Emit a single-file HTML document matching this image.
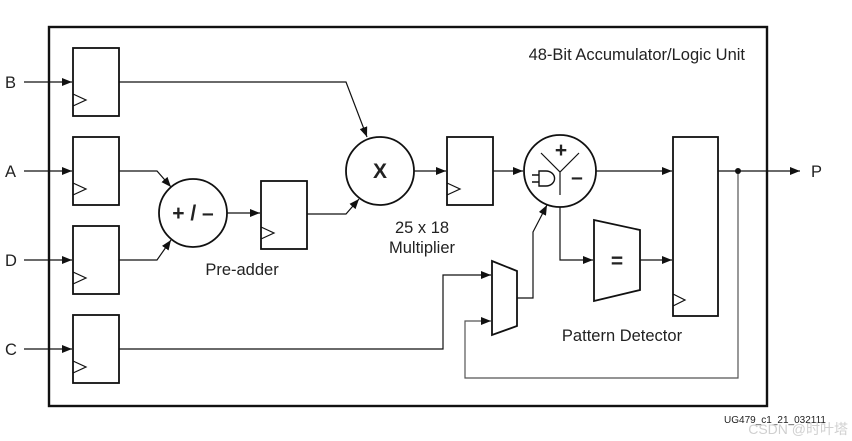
<!DOCTYPE html>
<html><head><style>body{margin:0;background:#fff}svg{display:block}text{font-family:"Liberation Sans",Arial,sans-serif;fill:#222}</style></head><body>
<svg width="852" height="441" viewBox="0 0 852 441" xmlns="http://www.w3.org/2000/svg">
<defs><marker id="a" markerWidth="10" markerHeight="8" refX="10" refY="4" orient="auto" markerUnits="userSpaceOnUse"><path d="M0,0 L10,4 L0,8 z" fill="#111"/></marker></defs>
<g fill="none" stroke="#111" stroke-width="1.2">
<rect x="49" y="27" width="718" height="379" stroke-width="2.4"/>
<g stroke-width="1.8">
<rect x="73" y="48" width="46" height="68"/><rect x="73" y="137" width="46" height="68"/>
<rect x="73" y="226" width="46" height="68"/><rect x="73" y="315" width="46" height="68"/>
<rect x="261" y="181" width="46" height="68"/><rect x="447" y="137" width="46" height="68"/>
<rect x="673" y="137" width="45" height="179"/>
<circle cx="193" cy="213" r="34"/><circle cx="380" cy="171" r="34"/><circle cx="560" cy="171" r="36"/>
<path d="M594,220 L640,230 L640,290 L594,301 Z"/>
<path d="M492,261 L517,271 L517,326 L492,335 Z"/>
</g>
<path d="M73,106 L86,100 L73,94 M73,195 L86,189 L73,183 M73,284 L86,278 L73,272 M73,373 L86,367 L73,361 M261,239 L274,233 L261,227 M447,195 L460,189 L447,183 M673,306 L685,300 L673,294"/>
<path d="M24,82 H72" marker-end="url(#a)"/><path d="M24,171 H72" marker-end="url(#a)"/>
<path d="M24,260 H72" marker-end="url(#a)"/><path d="M24,349 H72" marker-end="url(#a)"/>
<path d="M119,171 H157 L171,187" marker-end="url(#a)"/>
<path d="M119,260 H157 L171,240" marker-end="url(#a)"/>
<path d="M227,213 H260" marker-end="url(#a)"/>
<path d="M119,82 H346 L367,137" marker-end="url(#a)"/>
<path d="M307,214 H346 L359,199" marker-end="url(#a)"/>
<path d="M414,171 H446" marker-end="url(#a)"/>
<path d="M493,171 H523" marker-end="url(#a)"/>
<path d="M596,171 H672" marker-end="url(#a)"/>
<path d="M640,260 H672" marker-end="url(#a)"/>
<path d="M560,207 V260 H593" marker-end="url(#a)"/>
<path d="M517,298 H533 V232 L547,205" marker-end="url(#a)"/>
<path d="M119,349 H443 V275 H491" marker-end="url(#a)"/>
<path d="M738,171 V378 H465 V321 H491" marker-end="url(#a)" stroke="#555"/>
<path d="M718,171 H800" marker-end="url(#a)"/>
<path d="M541,153 L560,172 L579,153 M560,172 V195"/>
<path d="M539,171 H546 A8,7 0 0 1 546,186 H539 Z M532,175 H539 M532,182 H539" stroke-width="1.4"/>
</g>
<circle cx="738" cy="171" r="3" fill="#111"/>
<g font-size="16.5">
<text x="5" y="88">B</text><text x="5" y="177">A</text><text x="5" y="266">D</text><text x="5" y="355">C</text>
<text x="811" y="177">P</text>
<text x="745" y="60" text-anchor="end">48-Bit Accumulator/Logic Unit</text>
<text x="242" y="275" text-anchor="middle">Pre-adder</text>
<text x="422" y="233" text-anchor="middle">25 x 18</text>
<text x="422" y="253" text-anchor="middle">Multiplier</text>
<text x="622" y="341" text-anchor="middle">Pattern Detector</text>
</g>
<g font-weight="bold" font-size="21">
<text x="193" y="220" text-anchor="middle">+ / –</text>
<text x="380" y="178" text-anchor="middle">X</text>
<text x="561" y="157" text-anchor="middle">+</text>
<text x="577" y="184" text-anchor="middle">–</text>
<text x="617" y="268" text-anchor="middle">=</text>
</g>
<text x="826" y="423" font-size="10" text-anchor="end">UG479_c1_21_032111</text>
<text x="848" y="434" font-size="14" text-anchor="end" style="fill:#d0d0d0;font-family:'Liberation Sans','Noto Sans CJK SC',sans-serif">CSDN @时叶塔</text>
</svg>
</body></html>
